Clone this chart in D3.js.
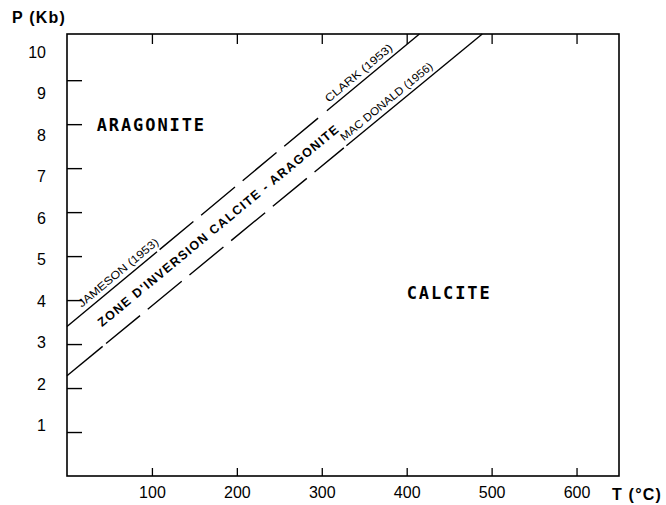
<!DOCTYPE html>
<html>
<head>
<meta charset="utf-8">
<script src="https://cdn.jsdelivr.net/npm/d3@7"></script>
<style>
  html, body { margin: 0; padding: 0; background: #fff; }
  svg { display: block; }
</style>
</head>
<body>
<svg id="chart" width="666" height="505"></svg>
<script>
// ---------- data ----------
const xTicks = [100, 200, 300, 400, 500, 600];
const yTicks = [1, 2, 3, 4, 5, 6, 7, 8, 9];
const yLabels = [1, 2, 3, 4, 5, 6, 7, 8, 9, 10];
const xDomain = [0, 650];
const yDomain = [0, 10.05];

// boundary lines (T in °C, P in kb)
const upperLine = [{T: 0, P: 3.4}, {T: 415, P: 10.05}];   // Jameson / Clark
const lowerLine = [{T: 0, P: 2.28}, {T: 489, P: 10.05}];  // Mac Donald
// T-ranges drawn solid / dashed along each line
const upperSolid = [[0, 106], [306, 415]];
const upperDashed = [[109, 303]];
const lowerSolid = [[0, 42], [329, 489]];
const lowerDashed = [[46, 326]];

const regionLabels = [
  {text: "ARAGONITE", T: 35, P: 7.98},
  {text: "CALCITE", T: 400, P: 4.15}
];
const lineLabels = [
  {text: "JAMESON (1953)", line: "upper", T: 21, len: 101},
  {text: "CLARK (1953)", line: "upper", T: 312, len: 84},
  {text: "MAC DONALD (1956)", line: "lower", T: 330, len: 116}
];
const zoneLabel = {text: "ZONE D'INVERSION CALCITE - ARAGONITE", T: 178, len: 308};

// ---------- drawing ----------
const svg = d3.select("#chart");
const x = d3.scaleLinear().domain(xDomain).range([67, 619]);
const y = d3.scaleLinear().domain(yDomain).range([476, 34]);
// tick labels of the y axis are spaced slightly differently in the original
const yLab = d3.scaleLinear().domain([0, 10]).range([467, 52]);

const lines = {upper: upperLine, lower: lowerLine};
function P(line, T) {
  const a = line[0], b = line[1];
  return a.P + (b.P - a.P) * (T - a.T) / (b.T - a.T);
}
function angleOf(line) {
  const a = line[0], b = line[1];
  return Math.atan2(y(b.P) - y(a.P), x(b.T) - x(a.T)) * 180 / Math.PI;
}

// frame
svg.append("rect")
  .attr("x", x(xDomain[0])).attr("y", y(yDomain[1]))
  .attr("width", x(xDomain[1]) - x(xDomain[0]))
  .attr("height", y(yDomain[0]) - y(yDomain[1]))
  .attr("fill", "none").attr("stroke", "#000").attr("stroke-width", 1.6);

// bottom axis
const gB = svg.append("g").attr("transform", `translate(0,${y(0)})`)
  .call(d3.axisBottom(x).tickValues(xTicks).tickSizeInner(-8).tickSizeOuter(0).tickPadding(11));
gB.select(".domain").remove();
gB.selectAll("line").attr("stroke", "#000").attr("stroke-width", 1.3);
gB.selectAll("text").attr("font-family", "Liberation Sans, Arial, sans-serif")
  .attr("font-size", 16).attr("fill", "#000");

// top ticks
const gT = svg.append("g").attr("transform", `translate(0,${y(yDomain[1])})`)
  .call(d3.axisTop(x).tickValues(xTicks).tickSizeInner(-10).tickSizeOuter(0).tickFormat(""));
gT.select(".domain").remove();
gT.selectAll("line").attr("stroke", "#000").attr("stroke-width", 1.3);

// left ticks
const gL = svg.append("g").attr("transform", `translate(${x(0)},0)`)
  .call(d3.axisLeft(y).tickValues(yTicks).tickSizeInner(-15).tickSizeOuter(0).tickFormat(""));
gL.select(".domain").remove();
gL.selectAll("line").attr("stroke", "#000").attr("stroke-width", 1.4);

// left labels
svg.append("g").selectAll("text").data(yLabels).join("text")
  .attr("x", 46).attr("y", d => yLab(d))
  .attr("text-anchor", "end").attr("dominant-baseline", "central")
  .attr("font-family", "Liberation Sans, Arial, sans-serif")
  .attr("font-size", 16).attr("fill", "#000")
  .text(d => d);

// axis titles
svg.append("text").attr("x", 12).attr("y", 23)
  .attr("font-family", "Liberation Sans, Arial, sans-serif").attr("font-weight", "bold")
  .attr("font-size", 16).attr("letter-spacing", 1.2).text("P (Kb)");
svg.append("text").attr("x", 612).attr("y", 500)
  .attr("font-family", "Liberation Sans, Arial, sans-serif").attr("font-weight", "bold")
  .attr("font-size", 16).attr("letter-spacing", 1.2).text("T (°C)");

// boundary lines
const seg = (line, r) => [{T: r[0], P: P(line, r[0])}, {T: r[1], P: P(line, r[1])}];
const lineGen = d3.line().x(d => x(d.T)).y(d => y(d.P));
function drawSegs(line, ranges, dashed) {
  svg.append("g").selectAll("path").data(ranges).join("path")
    .attr("d", r => lineGen(seg(line, r)))
    .attr("fill", "none").attr("stroke", "#000").attr("stroke-width", 1.4)
    .attr("stroke-dasharray", dashed ? "44,10" : null);
}
drawSegs(upperLine, upperSolid, false);
drawSegs(upperLine, upperDashed, true);
drawSegs(lowerLine, lowerSolid, false);
drawSegs(lowerLine, lowerDashed, true);

// region labels
svg.append("g").selectAll("text").data(regionLabels).join("text")
  .attr("x", d => x(d.T)).attr("y", d => y(d.P))
  .attr("dominant-baseline", "central")
  .attr("font-family", "DejaVu Sans Mono, monospace").attr("font-weight", "bold")
  .attr("font-size", 17).attr("letter-spacing", 1.9)
  .text(d => d.text);

// labels along the lines
svg.append("g").selectAll("text").data(lineLabels).join("text")
  .attr("transform", d => {
    const l = lines[d.line];
    return `translate(${x(d.T)},${y(P(l, d.T))}) rotate(${angleOf(l)})`;
  })
  .attr("x", 0).attr("y", -5)
  .attr("font-family", "Liberation Sans, Arial, sans-serif")
  .attr("font-size", 11)
  .attr("textLength", d => d.len).attr("lengthAdjust", "spacingAndGlyphs")
  .text(d => d.text);

// zone label between the lines
{
  const T = zoneLabel.T;
  const cx = x(T);
  const cy = (y(P(upperLine, T)) + y(P(lowerLine, T))) / 2;
  const ang = (angleOf(upperLine) + angleOf(lowerLine)) / 2;
  svg.append("text")
    .attr("transform", `translate(${cx},${cy}) rotate(${ang})`)
    .attr("text-anchor", "middle").attr("dominant-baseline", "central")
    .attr("font-family", "Liberation Sans, Arial, sans-serif").attr("font-weight", "bold")
    .attr("font-size", 12.5)
    .attr("textLength", zoneLabel.len).attr("lengthAdjust", "spacing")
    .text(zoneLabel.text);
}
</script>
</body>
</html>
